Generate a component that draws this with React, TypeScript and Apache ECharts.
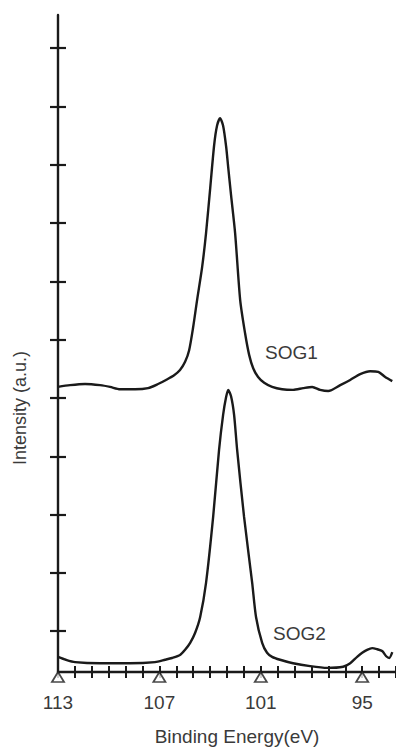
import React, { useEffect, useRef } from "react";
import * as echarts from "echarts";

// Binding energy (eV) and intensity (a.u.)
const sog1Energy = [113.0, 112.29, 111.4, 110.51, 109.92, 109.33, 108.44, 107.67, 107.08, 106.61, 106.13, 105.78, 105.48, 105.24, 105.01, 104.77, 104.47, 104.24, 104.0, 103.76, 103.59, 103.41, 103.23, 103.05, 102.93, 102.76, 102.52, 102.22, 101.93, 101.69, 101.45, 101.16, 100.8, 100.33, 99.74, 99.09, 98.49, 97.96, 97.49, 97.01, 96.3, 95.71, 95.12, 94.53, 94.05, 93.64, 93.22];
const sog1Intensity = [4.89, 4.92, 4.94, 4.92, 4.89, 4.85, 4.85, 4.87, 4.94, 5.01, 5.09, 5.18, 5.32, 5.52, 5.9, 6.38, 6.95, 7.53, 8.28, 9.04, 9.37, 9.5, 9.37, 9.01, 8.66, 8.18, 7.53, 6.38, 5.81, 5.44, 5.21, 5.06, 4.96, 4.89, 4.85, 4.84, 4.87, 4.89, 4.84, 4.82, 4.92, 5.01, 5.11, 5.16, 5.15, 5.06, 4.99];

const sog2Energy = [113.0, 112.53, 111.99, 110.51, 108.74, 107.26, 106.66, 106.25, 105.78, 105.48, 105.18, 104.89, 104.59, 104.24, 103.82, 103.47, 103.23, 103.05, 102.93, 102.76, 102.58, 102.4, 101.99, 101.51, 101.28, 100.92, 100.63, 100.33, 99.86, 99.09, 98.08, 97.07, 96.13, 95.71, 95.3, 95.0, 94.71, 94.41, 94.11, 93.82, 93.58, 93.4, 93.22];
const sog2Intensity = [0.26, 0.21, 0.17, 0.15, 0.15, 0.17, 0.21, 0.24, 0.29, 0.38, 0.5, 0.67, 0.94, 1.53, 2.66, 3.81, 4.41, 4.72, 4.84, 4.73, 4.41, 3.81, 2.66, 1.53, 0.94, 0.5, 0.33, 0.26, 0.21, 0.15, 0.1, 0.07, 0.09, 0.15, 0.26, 0.33, 0.38, 0.41, 0.39, 0.36, 0.27, 0.24, 0.34];

const xLabelValues = [113, 107, 101, 95];
const yTickValues = [0.7, 1.7, 2.7, 3.7, 4.7, 5.7, 6.7, 7.7, 8.7, 9.7, 10.7];

const X_MIN = 93;
const X_MAX = 113;
const Y_MIN = 0;
const Y_MAX = 11.27;

const FONT = "'Liberation Sans', Arial, Helvetica, sans-serif";
const INK = "#1a1a1a";
const TEXT = "#3a3a3a";

export default function App() {
  const ref = useRef<HTMLDivElement | null>(null);

  useEffect(() => {
    if (!ref.current) return;
    const chart = echarts.init(ref.current, undefined, { renderer: "svg" });

    const toPairs = (xs: number[], ys: number[]) => xs.map((x, i) => [x, ys[i]]);

    const baseX = {
      type: "value",
      min: X_MIN,
      max: X_MAX,
      inverse: true,
      interval: 1,
      position: "bottom",
      splitLine: { show: false },
    };
    const baseY = {
      type: "value",
      min: Y_MIN,
      max: Y_MAX,
      position: "left",
      splitLine: { show: false },
      axisLabel: { show: false },
    };

    chart.setOption({
      animation: false,
      grid: { left: 58, right: 0, top: 15, bottom: 75, containLabel: false },
      xAxis: [
        {
          ...baseX,
          axisLine: { show: true, onZero: false, lineStyle: { color: INK, width: 2.4 } },
          axisTick: { show: true, inside: false, length: 6, lineStyle: { color: INK, width: 2 } },
          axisLabel: {
            show: true,
            customValues: xLabelValues,
            margin: 21,
            fontSize: 19,
            fontFamily: FONT,
            color: TEXT,
          },
        },
        {
          ...baseX,
          axisLine: { show: false, onZero: false },
          axisTick: { show: true, inside: true, length: 6, lineStyle: { color: INK, width: 2 } },
          axisLabel: { show: false },
        },
      ],
      yAxis: [
        {
          ...baseY,
          axisLine: { show: true, onZero: false, lineStyle: { color: INK, width: 2.4 } },
          axisTick: { show: true, inside: false, length: 8, customValues: yTickValues, lineStyle: { color: INK, width: 2.2 } },
        },
        {
          ...baseY,
          axisLine: { show: false, onZero: false },
          axisTick: { show: true, inside: true, length: 8, customValues: yTickValues, lineStyle: { color: INK, width: 2.2 } },
        },
      ],
      series: [
        {
          name: "SOG1",
          type: "line",
          xAxisIndex: 0,
          yAxisIndex: 0,
          data: toPairs(sog1Energy, sog1Intensity),
          showSymbol: false,
          smooth: 0.25,
          silent: true,
          lineStyle: { color: INK, width: 2.4 },
        },
        {
          name: "SOG2",
          type: "line",
          xAxisIndex: 0,
          yAxisIndex: 0,
          data: toPairs(sog2Energy, sog2Intensity),
          showSymbol: false,
          smooth: 0.25,
          silent: true,
          lineStyle: { color: INK, width: 2.4 },
        },
        {
          name: "markers",
          type: "scatter",
          xAxisIndex: 0,
          yAxisIndex: 0,
          data: xLabelValues.map((v) => [v, Y_MIN]),
          symbol: "triangle",
          symbolSize: [12, 10],
          symbolOffset: [0, 5],
          clip: false,
          silent: true,
          z: 5,
          itemStyle: { color: "#ffffff", borderColor: INK, borderWidth: 1.8 },
        },
      ],
      graphic: [
        {
          type: "text",
          x: 20,
          y: 408,
          rotation: Math.PI / 2,
          style: {
            text: "Intensity (a.u.)",
            fontSize: 18,
            fontFamily: FONT,
            fill: TEXT,
            align: "center",
            verticalAlign: "middle",
            textAlign: "center",
            textVerticalAlign: "middle",
          },
        },
        {
          type: "text",
          x: 237,
          y: 736,
          style: {
            text: "Binding Energy(eV)",
            fontSize: 19,
            fontFamily: FONT,
            fill: TEXT,
            align: "center",
            verticalAlign: "middle",
            textAlign: "center",
            textVerticalAlign: "middle",
          },
        },
        {
          type: "text",
          x: 265,
          y: 352,
          style: {
            text: "SOG1",
            fontSize: 19,
            fontFamily: FONT,
            fill: TEXT,
            align: "left",
            verticalAlign: "middle",
            textAlign: "left",
            textVerticalAlign: "middle",
          },
        },
        {
          type: "text",
          x: 273,
          y: 633,
          style: {
            text: "SOG2",
            fontSize: 19,
            fontFamily: FONT,
            fill: TEXT,
            align: "left",
            verticalAlign: "middle",
            textAlign: "left",
            textVerticalAlign: "middle",
          },
        },
      ],
    });

    return () => {
      chart.dispose();
    };
  }, []);

  return (
    <div
      ref={ref}
      style={{ position: "fixed", left: 0, top: 0, width: 396, height: 747, background: "#ffffff" }}
    />
  );
}
